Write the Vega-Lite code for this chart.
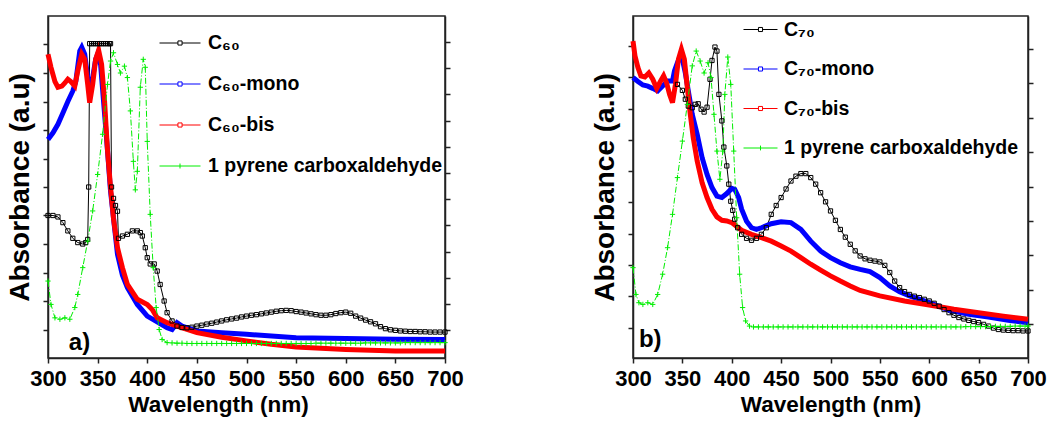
{
  "$schema": "https://vega.github.io/schema/vega-lite/v6.json",
  "background": "white",
  "padding": {"left": 5, "top": 11, "right": 5, "bottom": 5},
  "config": {
    "view": {"stroke": "#222222", "strokeWidth": 1.5},
    "axis": {"domainColor": "#222222", "domainWidth": 1.5, "tickColor": "#222222", "tickWidth": 1.5, "grid": false, "titleColor": "black", "labelColor": "black"},
    "legend": {"symbolStrokeWidth": 1, "symbolFillColor": "white", "labelFont": "Liberation Sans", "labelFontSize": 19.5, "labelFontWeight": "bold", "labelColor": "black", "labelLimit": 400, "padding": 0, "title": null}
  },
  "datasets": {
    "a": [
      {"s":"C₆₀","x":300,"y":0.50},{"s":"C₆₀","x":305,"y":0.50},{"s":"C₆₀","x":310,"y":0.495},{"s":"C₆₀","x":315,"y":0.475},{"s":"C₆₀","x":320,"y":0.446},{"s":"C₆₀","x":325,"y":0.42},{"s":"C₆₀","x":330,"y":0.405},{"s":"C₆₀","x":335,"y":0.40},{"s":"C₆₀","x":338,"y":0.405},{"s":"C₆₀","x":340,"y":0.416},{"s":"C₆₀","x":341,"y":0.60},{"s":"C₆₀","x":342,"y":1.103},{"s":"C₆₀","x":344,"y":1.103},{"s":"C₆₀","x":346,"y":1.103},{"s":"C₆₀","x":348,"y":1.103},{"s":"C₆₀","x":350,"y":1.103},{"s":"C₆₀","x":352,"y":1.103},{"s":"C₆₀","x":354,"y":1.103},{"s":"C₆₀","x":356,"y":1.103},{"s":"C₆₀","x":358,"y":1.103},{"s":"C₆₀","x":360,"y":1.103},{"s":"C₆₀","x":362,"y":1.103},{"s":"C₆₀","x":363,"y":1.103},{"s":"C₆₀","x":364,"y":0.60},{"s":"C₆₀","x":366,"y":0.56},{"s":"C₆₀","x":368,"y":0.535},{"s":"C₆₀","x":370,"y":0.515},{"s":"C₆₀","x":371,"y":0.42},{"s":"C₆₀","x":375,"y":0.428},{"s":"C₆₀","x":380,"y":0.434},{"s":"C₆₀","x":385,"y":0.446},{"s":"C₆₀","x":390,"y":0.446},{"s":"C₆₀","x":393,"y":0.44},{"s":"C₆₀","x":395,"y":0.428},{"s":"C₆₀","x":398,"y":0.387},{"s":"C₆₀","x":400,"y":0.352},{"s":"C₆₀","x":403,"y":0.33},{"s":"C₆₀","x":407,"y":0.33},{"s":"C₆₀","x":410,"y":0.305},{"s":"C₆₀","x":413,"y":0.258},{"s":"C₆₀","x":417,"y":0.20},{"s":"C₆₀","x":420,"y":0.159},{"s":"C₆₀","x":425,"y":0.13},{"s":"C₆₀","x":430,"y":0.112},{"s":"C₆₀","x":435,"y":0.107},{"s":"C₆₀","x":440,"y":0.106},{"s":"C₆₀","x":445,"y":0.108},{"s":"C₆₀","x":450,"y":0.112},{"s":"C₆₀","x":455,"y":0.115},{"s":"C₆₀","x":460,"y":0.119},{"s":"C₆₀","x":465,"y":0.122},{"s":"C₆₀","x":470,"y":0.126},{"s":"C₆₀","x":475,"y":0.13},{"s":"C₆₀","x":480,"y":0.134},{"s":"C₆₀","x":485,"y":0.137},{"s":"C₆₀","x":490,"y":0.14},{"s":"C₆₀","x":495,"y":0.144},{"s":"C₆₀","x":500,"y":0.147},{"s":"C₆₀","x":505,"y":0.15},{"s":"C₆₀","x":510,"y":0.152},{"s":"C₆₀","x":515,"y":0.155},{"s":"C₆₀","x":520,"y":0.158},{"s":"C₆₀","x":525,"y":0.161},{"s":"C₆₀","x":530,"y":0.164},{"s":"C₆₀","x":535,"y":0.166},{"s":"C₆₀","x":540,"y":0.167},{"s":"C₆₀","x":545,"y":0.166},{"s":"C₆₀","x":550,"y":0.163},{"s":"C₆₀","x":555,"y":0.161},{"s":"C₆₀","x":560,"y":0.158},{"s":"C₆₀","x":565,"y":0.155},{"s":"C₆₀","x":570,"y":0.152},{"s":"C₆₀","x":575,"y":0.15},{"s":"C₆₀","x":580,"y":0.15},{"s":"C₆₀","x":585,"y":0.152},{"s":"C₆₀","x":590,"y":0.156},{"s":"C₆₀","x":595,"y":0.159},{"s":"C₆₀","x":600,"y":0.161},{"s":"C₆₀","x":605,"y":0.157},{"s":"C₆₀","x":610,"y":0.147},{"s":"C₆₀","x":615,"y":0.14},{"s":"C₆₀","x":620,"y":0.133},{"s":"C₆₀","x":625,"y":0.127},{"s":"C₆₀","x":630,"y":0.12},{"s":"C₆₀","x":635,"y":0.11},{"s":"C₆₀","x":640,"y":0.103},{"s":"C₆₀","x":645,"y":0.099},{"s":"C₆₀","x":650,"y":0.097},{"s":"C₆₀","x":655,"y":0.095},{"s":"C₆₀","x":660,"y":0.094},{"s":"C₆₀","x":665,"y":0.093},{"s":"C₆₀","x":670,"y":0.093},{"s":"C₆₀","x":675,"y":0.092},{"s":"C₆₀","x":680,"y":0.092},{"s":"C₆₀","x":685,"y":0.091},{"s":"C₆₀","x":690,"y":0.091},{"s":"C₆₀","x":695,"y":0.091},{"s":"C₆₀","x":700,"y":0.091},
      {"s":"C₆₀-mono","x":300,"y":0.767},{"s":"C₆₀-mono","x":305,"y":0.79},{"s":"C₆₀-mono","x":310,"y":0.82},{"s":"C₆₀-mono","x":315,"y":0.86},{"s":"C₆₀-mono","x":320,"y":0.90},{"s":"C₆₀-mono","x":325,"y":0.937},{"s":"C₆₀-mono","x":328,"y":0.97},{"s":"C₆₀-mono","x":332,"y":1.077},{"s":"C₆₀-mono","x":334,"y":1.09},{"s":"C₆₀-mono","x":337,"y":1.066},{"s":"C₆₀-mono","x":340,"y":0.984},{"s":"C₆₀-mono","x":342,"y":0.943},{"s":"C₆₀-mono","x":345,"y":0.984},{"s":"C₆₀-mono","x":348,"y":1.048},{"s":"C₆₀-mono","x":350,"y":1.066},{"s":"C₆₀-mono","x":353,"y":1.03},{"s":"C₆₀-mono","x":356,"y":0.90},{"s":"C₆₀-mono","x":360,"y":0.726},{"s":"C₆₀-mono","x":363,"y":0.586},{"s":"C₆₀-mono","x":366,"y":0.49},{"s":"C₆₀-mono","x":370,"y":0.364},{"s":"C₆₀-mono","x":375,"y":0.29},{"s":"C₆₀-mono","x":380,"y":0.247},{"s":"C₆₀-mono","x":390,"y":0.188},{"s":"C₆₀-mono","x":400,"y":0.147},{"s":"C₆₀-mono","x":410,"y":0.127},{"s":"C₆₀-mono","x":420,"y":0.106},{"s":"C₆₀-mono","x":425,"y":0.10},{"s":"C₆₀-mono","x":430,"y":0.124},{"s":"C₆₀-mono","x":435,"y":0.112},{"s":"C₆₀-mono","x":450,"y":0.095},{"s":"C₆₀-mono","x":475,"y":0.089},{"s":"C₆₀-mono","x":500,"y":0.083},{"s":"C₆₀-mono","x":550,"y":0.071},{"s":"C₆₀-mono","x":600,"y":0.068},{"s":"C₆₀-mono","x":650,"y":0.066},{"s":"C₆₀-mono","x":700,"y":0.065},
      {"s":"C₆₀-bis","x":300,"y":1.066},{"s":"C₆₀-bis","x":303,"y":1.02},{"s":"C₆₀-bis","x":307,"y":0.97},{"s":"C₆₀-bis","x":310,"y":0.95},{"s":"C₆₀-bis","x":314,"y":0.954},{"s":"C₆₀-bis","x":317,"y":0.965},{"s":"C₆₀-bis","x":320,"y":0.978},{"s":"C₆₀-bis","x":323,"y":0.97},{"s":"C₆₀-bis","x":327,"y":0.954},{"s":"C₆₀-bis","x":330,"y":1.007},{"s":"C₆₀-bis","x":334,"y":1.066},{"s":"C₆₀-bis","x":337,"y":1.048},{"s":"C₆₀-bis","x":340,"y":0.96},{"s":"C₆₀-bis","x":342,"y":0.896},{"s":"C₆₀-bis","x":345,"y":0.96},{"s":"C₆₀-bis","x":348,"y":1.048},{"s":"C₆₀-bis","x":351,"y":1.08},{"s":"C₆₀-bis","x":354,"y":1.03},{"s":"C₆₀-bis","x":357,"y":0.90},{"s":"C₆₀-bis","x":360,"y":0.726},{"s":"C₆₀-bis","x":363,"y":0.60},{"s":"C₆₀-bis","x":366,"y":0.49},{"s":"C₆₀-bis","x":370,"y":0.387},{"s":"C₆₀-bis","x":375,"y":0.317},{"s":"C₆₀-bis","x":380,"y":0.258},{"s":"C₆₀-bis","x":390,"y":0.206},{"s":"C₆₀-bis","x":400,"y":0.188},{"s":"C₆₀-bis","x":405,"y":0.17},{"s":"C₆₀-bis","x":410,"y":0.141},{"s":"C₆₀-bis","x":420,"y":0.124},{"s":"C₆₀-bis","x":430,"y":0.112},{"s":"C₆₀-bis","x":450,"y":0.089},{"s":"C₆₀-bis","x":475,"y":0.073},{"s":"C₆₀-bis","x":500,"y":0.06},{"s":"C₆₀-bis","x":525,"y":0.048},{"s":"C₆₀-bis","x":550,"y":0.039},{"s":"C₆₀-bis","x":575,"y":0.034},{"s":"C₆₀-bis","x":600,"y":0.03},{"s":"C₆₀-bis","x":650,"y":0.025},{"s":"C₆₀-bis","x":700,"y":0.025},
      {"s":"1 pyrene carboxaldehyde","x":300,"y":0.27},{"s":"1 pyrene carboxaldehyde","x":303,"y":0.188},{"s":"1 pyrene carboxaldehyde","x":307,"y":0.141},{"s":"1 pyrene carboxaldehyde","x":312,"y":0.136},{"s":"1 pyrene carboxaldehyde","x":317,"y":0.141},{"s":"1 pyrene carboxaldehyde","x":322,"y":0.136},{"s":"1 pyrene carboxaldehyde","x":327,"y":0.177},{"s":"1 pyrene carboxaldehyde","x":330,"y":0.223},{"s":"1 pyrene carboxaldehyde","x":335,"y":0.317},{"s":"1 pyrene carboxaldehyde","x":340,"y":0.41},{"s":"1 pyrene carboxaldehyde","x":345,"y":0.516},{"s":"1 pyrene carboxaldehyde","x":350,"y":0.644},{"s":"1 pyrene carboxaldehyde","x":355,"y":0.785},{"s":"1 pyrene carboxaldehyde","x":360,"y":0.96},{"s":"1 pyrene carboxaldehyde","x":363,"y":1.042},{"s":"1 pyrene carboxaldehyde","x":366,"y":1.071},{"s":"1 pyrene carboxaldehyde","x":370,"y":1.03},{"s":"1 pyrene carboxaldehyde","x":373,"y":1.0},{"s":"1 pyrene carboxaldehyde","x":377,"y":1.024},{"s":"1 pyrene carboxaldehyde","x":380,"y":0.984},{"s":"1 pyrene carboxaldehyde","x":383,"y":0.867},{"s":"1 pyrene carboxaldehyde","x":386,"y":0.69},{"s":"1 pyrene carboxaldehyde","x":388,"y":0.59},{"s":"1 pyrene carboxaldehyde","x":390,"y":0.655},{"s":"1 pyrene carboxaldehyde","x":393,"y":0.95},{"s":"1 pyrene carboxaldehyde","x":396,"y":1.048},{"s":"1 pyrene carboxaldehyde","x":398,"y":1.02},{"s":"1 pyrene carboxaldehyde","x":400,"y":0.76},{"s":"1 pyrene carboxaldehyde","x":403,"y":0.504},{"s":"1 pyrene carboxaldehyde","x":406,"y":0.317},{"s":"1 pyrene carboxaldehyde","x":409,"y":0.177},{"s":"1 pyrene carboxaldehyde","x":412,"y":0.10},{"s":"1 pyrene carboxaldehyde","x":415,"y":0.065},{"s":"1 pyrene carboxaldehyde","x":420,"y":0.054},{"s":"1 pyrene carboxaldehyde","x":425,"y":0.053},{"s":"1 pyrene carboxaldehyde","x":430,"y":0.052},{"s":"1 pyrene carboxaldehyde","x":435,"y":0.052},{"s":"1 pyrene carboxaldehyde","x":440,"y":0.051},{"s":"1 pyrene carboxaldehyde","x":445,"y":0.051},{"s":"1 pyrene carboxaldehyde","x":450,"y":0.051},{"s":"1 pyrene carboxaldehyde","x":455,"y":0.051},{"s":"1 pyrene carboxaldehyde","x":460,"y":0.051},{"s":"1 pyrene carboxaldehyde","x":465,"y":0.051},{"s":"1 pyrene carboxaldehyde","x":470,"y":0.051},{"s":"1 pyrene carboxaldehyde","x":475,"y":0.051},{"s":"1 pyrene carboxaldehyde","x":480,"y":0.051},{"s":"1 pyrene carboxaldehyde","x":485,"y":0.051},{"s":"1 pyrene carboxaldehyde","x":490,"y":0.051},{"s":"1 pyrene carboxaldehyde","x":495,"y":0.051},{"s":"1 pyrene carboxaldehyde","x":500,"y":0.051},{"s":"1 pyrene carboxaldehyde","x":505,"y":0.051},{"s":"1 pyrene carboxaldehyde","x":510,"y":0.051},{"s":"1 pyrene carboxaldehyde","x":515,"y":0.051},{"s":"1 pyrene carboxaldehyde","x":520,"y":0.051},{"s":"1 pyrene carboxaldehyde","x":525,"y":0.051},{"s":"1 pyrene carboxaldehyde","x":530,"y":0.051},{"s":"1 pyrene carboxaldehyde","x":535,"y":0.051},{"s":"1 pyrene carboxaldehyde","x":540,"y":0.051},{"s":"1 pyrene carboxaldehyde","x":545,"y":0.051},{"s":"1 pyrene carboxaldehyde","x":550,"y":0.051},{"s":"1 pyrene carboxaldehyde","x":555,"y":0.051},{"s":"1 pyrene carboxaldehyde","x":560,"y":0.051},{"s":"1 pyrene carboxaldehyde","x":565,"y":0.051},{"s":"1 pyrene carboxaldehyde","x":570,"y":0.052},{"s":"1 pyrene carboxaldehyde","x":575,"y":0.052},{"s":"1 pyrene carboxaldehyde","x":580,"y":0.052},{"s":"1 pyrene carboxaldehyde","x":585,"y":0.052},{"s":"1 pyrene carboxaldehyde","x":590,"y":0.052},{"s":"1 pyrene carboxaldehyde","x":595,"y":0.052},{"s":"1 pyrene carboxaldehyde","x":600,"y":0.052},{"s":"1 pyrene carboxaldehyde","x":605,"y":0.052},{"s":"1 pyrene carboxaldehyde","x":610,"y":0.052},{"s":"1 pyrene carboxaldehyde","x":615,"y":0.052},{"s":"1 pyrene carboxaldehyde","x":620,"y":0.053},{"s":"1 pyrene carboxaldehyde","x":625,"y":0.053},{"s":"1 pyrene carboxaldehyde","x":630,"y":0.053},{"s":"1 pyrene carboxaldehyde","x":635,"y":0.053},{"s":"1 pyrene carboxaldehyde","x":640,"y":0.053},{"s":"1 pyrene carboxaldehyde","x":645,"y":0.053},{"s":"1 pyrene carboxaldehyde","x":650,"y":0.053},{"s":"1 pyrene carboxaldehyde","x":655,"y":0.053},{"s":"1 pyrene carboxaldehyde","x":660,"y":0.054},{"s":"1 pyrene carboxaldehyde","x":665,"y":0.054},{"s":"1 pyrene carboxaldehyde","x":670,"y":0.054},{"s":"1 pyrene carboxaldehyde","x":675,"y":0.054},{"s":"1 pyrene carboxaldehyde","x":680,"y":0.054},{"s":"1 pyrene carboxaldehyde","x":685,"y":0.054},{"s":"1 pyrene carboxaldehyde","x":690,"y":0.054},{"s":"1 pyrene carboxaldehyde","x":695,"y":0.054},{"s":"1 pyrene carboxaldehyde","x":700,"y":0.054}
    ],
    "b": [
      {"s":"C₇₀","x":345,"y":0.96},{"s":"C₇₀","x":350,"y":0.939},{"s":"C₇₀","x":353,"y":0.908},{"s":"C₇₀","x":356,"y":0.884},{"s":"C₇₀","x":360,"y":0.878},{"s":"C₇₀","x":363,"y":0.89},{"s":"C₇₀","x":366,"y":0.892},{"s":"C₇₀","x":369,"y":0.873},{"s":"C₇₀","x":372,"y":0.863},{"s":"C₇₀","x":375,"y":0.88},{"s":"C₇₀","x":378,"y":0.978},{"s":"C₇₀","x":380,"y":1.044},{"s":"C₇₀","x":383,"y":1.091},{"s":"C₇₀","x":385,"y":1.077},{"s":"C₇₀","x":387,"y":0.925},{"s":"C₇₀","x":390,"y":0.832},{"s":"C₇₀","x":392,"y":0.74},{"s":"C₇₀","x":395,"y":0.674},{"s":"C₇₀","x":397,"y":0.61},{"s":"C₇₀","x":399,"y":0.55},{"s":"C₇₀","x":401,"y":0.518},{"s":"C₇₀","x":403,"y":0.487},{"s":"C₇₀","x":406,"y":0.457},{"s":"C₇₀","x":410,"y":0.434},{"s":"C₇₀","x":415,"y":0.42},{"s":"C₇₀","x":420,"y":0.413},{"s":"C₇₀","x":425,"y":0.42},{"s":"C₇₀","x":430,"y":0.434},{"s":"C₇₀","x":435,"y":0.457},{"s":"C₇₀","x":440,"y":0.504},{"s":"C₇₀","x":445,"y":0.535},{"s":"C₇₀","x":450,"y":0.563},{"s":"C₇₀","x":455,"y":0.593},{"s":"C₇₀","x":460,"y":0.621},{"s":"C₇₀","x":465,"y":0.638},{"s":"C₇₀","x":470,"y":0.647},{"s":"C₇₀","x":475,"y":0.647},{"s":"C₇₀","x":480,"y":0.633},{"s":"C₇₀","x":485,"y":0.61},{"s":"C₇₀","x":490,"y":0.58},{"s":"C₇₀","x":495,"y":0.548},{"s":"C₇₀","x":500,"y":0.516},{"s":"C₇₀","x":505,"y":0.483},{"s":"C₇₀","x":510,"y":0.451},{"s":"C₇₀","x":515,"y":0.424},{"s":"C₇₀","x":520,"y":0.399},{"s":"C₇₀","x":525,"y":0.376},{"s":"C₇₀","x":530,"y":0.358},{"s":"C₇₀","x":535,"y":0.348},{"s":"C₇₀","x":540,"y":0.343},{"s":"C₇₀","x":545,"y":0.34},{"s":"C₇₀","x":550,"y":0.337},{"s":"C₇₀","x":555,"y":0.325},{"s":"C₇₀","x":560,"y":0.30},{"s":"C₇₀","x":565,"y":0.27},{"s":"C₇₀","x":570,"y":0.247},{"s":"C₇₀","x":575,"y":0.233},{"s":"C₇₀","x":580,"y":0.223},{"s":"C₇₀","x":585,"y":0.217},{"s":"C₇₀","x":590,"y":0.212},{"s":"C₇₀","x":595,"y":0.206},{"s":"C₇₀","x":600,"y":0.20},{"s":"C₇₀","x":605,"y":0.192},{"s":"C₇₀","x":610,"y":0.182},{"s":"C₇₀","x":615,"y":0.17},{"s":"C₇₀","x":620,"y":0.159},{"s":"C₇₀","x":625,"y":0.15},{"s":"C₇₀","x":630,"y":0.142},{"s":"C₇₀","x":635,"y":0.137},{"s":"C₇₀","x":640,"y":0.132},{"s":"C₇₀","x":645,"y":0.128},{"s":"C₇₀","x":650,"y":0.124},{"s":"C₇₀","x":655,"y":0.118},{"s":"C₇₀","x":660,"y":0.112},{"s":"C₇₀","x":665,"y":0.105},{"s":"C₇₀","x":670,"y":0.10},{"s":"C₇₀","x":675,"y":0.098},{"s":"C₇₀","x":680,"y":0.097},{"s":"C₇₀","x":685,"y":0.096},{"s":"C₇₀","x":690,"y":0.096},{"s":"C₇₀","x":695,"y":0.095},{"s":"C₇₀","x":700,"y":0.095},
      {"s":"C₇₀-mono","x":300,"y":0.984},{"s":"C₇₀-mono","x":305,"y":0.97},{"s":"C₇₀-mono","x":310,"y":0.958},{"s":"C₇₀-mono","x":315,"y":0.954},{"s":"C₇₀-mono","x":320,"y":0.946},{"s":"C₇₀-mono","x":325,"y":0.937},{"s":"C₇₀-mono","x":330,"y":0.954},{"s":"C₇₀-mono","x":335,"y":0.972},{"s":"C₇₀-mono","x":340,"y":0.972},{"s":"C₇₀-mono","x":342,"y":1.007},{"s":"C₇₀-mono","x":345,"y":1.036},{"s":"C₇₀-mono","x":348,"y":1.06},{"s":"C₇₀-mono","x":350,"y":1.048},{"s":"C₇₀-mono","x":353,"y":1.0},{"s":"C₇₀-mono","x":356,"y":0.937},{"s":"C₇₀-mono","x":360,"y":0.855},{"s":"C₇₀-mono","x":365,"y":0.785},{"s":"C₇₀-mono","x":370,"y":0.703},{"s":"C₇₀-mono","x":375,"y":0.644},{"s":"C₇₀-mono","x":380,"y":0.598},{"s":"C₇₀-mono","x":385,"y":0.568},{"s":"C₇₀-mono","x":390,"y":0.563},{"s":"C₇₀-mono","x":395,"y":0.577},{"s":"C₇₀-mono","x":400,"y":0.595},{"s":"C₇₀-mono","x":403,"y":0.592},{"s":"C₇₀-mono","x":407,"y":0.563},{"s":"C₇₀-mono","x":410,"y":0.522},{"s":"C₇₀-mono","x":415,"y":0.48},{"s":"C₇₀-mono","x":420,"y":0.457},{"s":"C₇₀-mono","x":425,"y":0.451},{"s":"C₇₀-mono","x":430,"y":0.457},{"s":"C₇₀-mono","x":440,"y":0.471},{"s":"C₇₀-mono","x":450,"y":0.478},{"s":"C₇₀-mono","x":460,"y":0.475},{"s":"C₇₀-mono","x":470,"y":0.451},{"s":"C₇₀-mono","x":480,"y":0.41},{"s":"C₇₀-mono","x":490,"y":0.375},{"s":"C₇₀-mono","x":500,"y":0.352},{"s":"C₇₀-mono","x":510,"y":0.334},{"s":"C₇₀-mono","x":520,"y":0.32},{"s":"C₇₀-mono","x":530,"y":0.311},{"s":"C₇₀-mono","x":540,"y":0.303},{"s":"C₇₀-mono","x":550,"y":0.282},{"s":"C₇₀-mono","x":560,"y":0.253},{"s":"C₇₀-mono","x":570,"y":0.232},{"s":"C₇₀-mono","x":580,"y":0.218},{"s":"C₇₀-mono","x":600,"y":0.194},{"s":"C₇₀-mono","x":620,"y":0.168},{"s":"C₇₀-mono","x":640,"y":0.153},{"s":"C₇₀-mono","x":660,"y":0.144},{"s":"C₇₀-mono","x":680,"y":0.132},{"s":"C₇₀-mono","x":700,"y":0.124},
      {"s":"C₇₀-bis","x":300,"y":1.112},{"s":"C₇₀-bis","x":302,"y":1.06},{"s":"C₇₀-bis","x":305,"y":1.019},{"s":"C₇₀-bis","x":308,"y":0.99},{"s":"C₇₀-bis","x":312,"y":0.986},{"s":"C₇₀-bis","x":316,"y":1.0},{"s":"C₇₀-bis","x":320,"y":0.978},{"s":"C₇₀-bis","x":324,"y":0.946},{"s":"C₇₀-bis","x":328,"y":0.972},{"s":"C₇₀-bis","x":331,"y":0.99},{"s":"C₇₀-bis","x":334,"y":0.966},{"s":"C₇₀-bis","x":337,"y":0.925},{"s":"C₇₀-bis","x":340,"y":0.896},{"s":"C₇₀-bis","x":343,"y":0.96},{"s":"C₇₀-bis","x":346,"y":1.048},{"s":"C₇₀-bis","x":349,"y":1.083},{"s":"C₇₀-bis","x":352,"y":1.048},{"s":"C₇₀-bis","x":355,"y":0.949},{"s":"C₇₀-bis","x":358,"y":0.855},{"s":"C₇₀-bis","x":361,"y":0.773},{"s":"C₇₀-bis","x":365,"y":0.691},{"s":"C₇₀-bis","x":370,"y":0.615},{"s":"C₇₀-bis","x":375,"y":0.563},{"s":"C₇₀-bis","x":380,"y":0.522},{"s":"C₇₀-bis","x":385,"y":0.495},{"s":"C₇₀-bis","x":390,"y":0.483},{"s":"C₇₀-bis","x":395,"y":0.481},{"s":"C₇₀-bis","x":400,"y":0.475},{"s":"C₇₀-bis","x":410,"y":0.448},{"s":"C₇₀-bis","x":420,"y":0.434},{"s":"C₇₀-bis","x":430,"y":0.422},{"s":"C₇₀-bis","x":440,"y":0.41},{"s":"C₇₀-bis","x":450,"y":0.393},{"s":"C₇₀-bis","x":460,"y":0.375},{"s":"C₇₀-bis","x":470,"y":0.352},{"s":"C₇₀-bis","x":480,"y":0.329},{"s":"C₇₀-bis","x":490,"y":0.308},{"s":"C₇₀-bis","x":500,"y":0.288},{"s":"C₇₀-bis","x":510,"y":0.27},{"s":"C₇₀-bis","x":520,"y":0.253},{"s":"C₇₀-bis","x":530,"y":0.237},{"s":"C₇₀-bis","x":550,"y":0.218},{"s":"C₇₀-bis","x":575,"y":0.20},{"s":"C₇₀-bis","x":600,"y":0.186},{"s":"C₇₀-bis","x":625,"y":0.171},{"s":"C₇₀-bis","x":650,"y":0.159},{"s":"C₇₀-bis","x":675,"y":0.147},{"s":"C₇₀-bis","x":700,"y":0.136},
      {"s":"1 pyrene carboxaldehyde","x":300,"y":0.317},{"s":"1 pyrene carboxaldehyde","x":303,"y":0.223},{"s":"1 pyrene carboxaldehyde","x":306,"y":0.194},{"s":"1 pyrene carboxaldehyde","x":310,"y":0.188},{"s":"1 pyrene carboxaldehyde","x":315,"y":0.194},{"s":"1 pyrene carboxaldehyde","x":320,"y":0.188},{"s":"1 pyrene carboxaldehyde","x":325,"y":0.223},{"s":"1 pyrene carboxaldehyde","x":330,"y":0.294},{"s":"1 pyrene carboxaldehyde","x":335,"y":0.387},{"s":"1 pyrene carboxaldehyde","x":340,"y":0.504},{"s":"1 pyrene carboxaldehyde","x":345,"y":0.633},{"s":"1 pyrene carboxaldehyde","x":350,"y":0.761},{"s":"1 pyrene carboxaldehyde","x":355,"y":0.89},{"s":"1 pyrene carboxaldehyde","x":360,"y":1.025},{"s":"1 pyrene carboxaldehyde","x":364,"y":1.077},{"s":"1 pyrene carboxaldehyde","x":368,"y":1.042},{"s":"1 pyrene carboxaldehyde","x":372,"y":1.0},{"s":"1 pyrene carboxaldehyde","x":376,"y":1.036},{"s":"1 pyrene carboxaldehyde","x":379,"y":0.984},{"s":"1 pyrene carboxaldehyde","x":382,"y":0.855},{"s":"1 pyrene carboxaldehyde","x":385,"y":0.726},{"s":"1 pyrene carboxaldehyde","x":388,"y":0.627},{"s":"1 pyrene carboxaldehyde","x":391,"y":0.726},{"s":"1 pyrene carboxaldehyde","x":393,"y":0.925},{"s":"1 pyrene carboxaldehyde","x":396,"y":1.056},{"s":"1 pyrene carboxaldehyde","x":399,"y":0.96},{"s":"1 pyrene carboxaldehyde","x":402,"y":0.726},{"s":"1 pyrene carboxaldehyde","x":405,"y":0.492},{"s":"1 pyrene carboxaldehyde","x":408,"y":0.294},{"s":"1 pyrene carboxaldehyde","x":411,"y":0.177},{"s":"1 pyrene carboxaldehyde","x":414,"y":0.13},{"s":"1 pyrene carboxaldehyde","x":418,"y":0.112},{"s":"1 pyrene carboxaldehyde","x":422,"y":0.109},{"s":"1 pyrene carboxaldehyde","x":427,"y":0.109},{"s":"1 pyrene carboxaldehyde","x":432,"y":0.109},{"s":"1 pyrene carboxaldehyde","x":437,"y":0.109},{"s":"1 pyrene carboxaldehyde","x":442,"y":0.109},{"s":"1 pyrene carboxaldehyde","x":447,"y":0.109},{"s":"1 pyrene carboxaldehyde","x":452,"y":0.109},{"s":"1 pyrene carboxaldehyde","x":457,"y":0.109},{"s":"1 pyrene carboxaldehyde","x":462,"y":0.109},{"s":"1 pyrene carboxaldehyde","x":467,"y":0.109},{"s":"1 pyrene carboxaldehyde","x":472,"y":0.109},{"s":"1 pyrene carboxaldehyde","x":477,"y":0.109},{"s":"1 pyrene carboxaldehyde","x":482,"y":0.109},{"s":"1 pyrene carboxaldehyde","x":487,"y":0.109},{"s":"1 pyrene carboxaldehyde","x":492,"y":0.109},{"s":"1 pyrene carboxaldehyde","x":497,"y":0.109},{"s":"1 pyrene carboxaldehyde","x":502,"y":0.109},{"s":"1 pyrene carboxaldehyde","x":507,"y":0.109},{"s":"1 pyrene carboxaldehyde","x":512,"y":0.109},{"s":"1 pyrene carboxaldehyde","x":517,"y":0.109},{"s":"1 pyrene carboxaldehyde","x":522,"y":0.109},{"s":"1 pyrene carboxaldehyde","x":527,"y":0.109},{"s":"1 pyrene carboxaldehyde","x":532,"y":0.109},{"s":"1 pyrene carboxaldehyde","x":537,"y":0.109},{"s":"1 pyrene carboxaldehyde","x":542,"y":0.109},{"s":"1 pyrene carboxaldehyde","x":547,"y":0.109},{"s":"1 pyrene carboxaldehyde","x":552,"y":0.109},{"s":"1 pyrene carboxaldehyde","x":557,"y":0.109},{"s":"1 pyrene carboxaldehyde","x":562,"y":0.109},{"s":"1 pyrene carboxaldehyde","x":567,"y":0.109},{"s":"1 pyrene carboxaldehyde","x":572,"y":0.109},{"s":"1 pyrene carboxaldehyde","x":577,"y":0.109},{"s":"1 pyrene carboxaldehyde","x":582,"y":0.109},{"s":"1 pyrene carboxaldehyde","x":587,"y":0.109},{"s":"1 pyrene carboxaldehyde","x":592,"y":0.109},{"s":"1 pyrene carboxaldehyde","x":597,"y":0.109},{"s":"1 pyrene carboxaldehyde","x":602,"y":0.109},{"s":"1 pyrene carboxaldehyde","x":607,"y":0.109},{"s":"1 pyrene carboxaldehyde","x":612,"y":0.109},{"s":"1 pyrene carboxaldehyde","x":617,"y":0.109},{"s":"1 pyrene carboxaldehyde","x":622,"y":0.109},{"s":"1 pyrene carboxaldehyde","x":627,"y":0.109},{"s":"1 pyrene carboxaldehyde","x":632,"y":0.109},{"s":"1 pyrene carboxaldehyde","x":637,"y":0.11},{"s":"1 pyrene carboxaldehyde","x":642,"y":0.11},{"s":"1 pyrene carboxaldehyde","x":647,"y":0.11},{"s":"1 pyrene carboxaldehyde","x":652,"y":0.11},{"s":"1 pyrene carboxaldehyde","x":657,"y":0.11},{"s":"1 pyrene carboxaldehyde","x":662,"y":0.11},{"s":"1 pyrene carboxaldehyde","x":667,"y":0.111},{"s":"1 pyrene carboxaldehyde","x":672,"y":0.111},{"s":"1 pyrene carboxaldehyde","x":677,"y":0.111},{"s":"1 pyrene carboxaldehyde","x":682,"y":0.111},{"s":"1 pyrene carboxaldehyde","x":687,"y":0.112},{"s":"1 pyrene carboxaldehyde","x":692,"y":0.112},{"s":"1 pyrene carboxaldehyde","x":697,"y":0.112},{"s":"1 pyrene carboxaldehyde","x":700,"y":0.112}
    ]
  },
  "hconcat": [
    {
      "width": 397, "height": 342,
      "data": {"name": "a"},
      "layer": [
        {
          "transform": [{"filter": "datum.s == 'C₆₀'"}],
          "mark": {"type": "line", "strokeWidth": 1},
          "encoding": {
            "x": {"field": "x", "type": "quantitative", "scale": {"domain": [300, 700], "nice": false},
              "axis": {"values": [300,325,350,375,400,425,450,475,500,525,550,575,600,625,650,675,700], "labelExpr": "datum.value % 50 == 0 ? datum.label : ''", "tickSize": 5, "labelFont": "Liberation Sans", "labelFontSize": 22, "labelFontWeight": "bold", "labelPadding": 5, "labelFlush": false, "labelOverlap": false, "title": "Wavelength (nm)", "titleFont": "Liberation Sans", "titleFontSize": 22.5, "titleFontWeight": "bold", "titlePadding": 4, "titleX": 170}},
            "y": {"field": "y", "type": "quantitative", "scale": {"domain": [0, 1.2], "nice": false},
              "axis": {"orient": "left", "values": [0.1,0.2,0.3,0.4,0.5,0.6,0.7,0.8,0.9,1.0,1.1], "labels": false, "tickSize": 5, "title": "Absorbance (a.u)", "titleFont": "Liberation Sans", "titleFontSize": 28, "titleFontWeight": "bold", "titlePadding": 8}},
            "color": {"field": "s", "type": "nominal",
              "scale": {"domain": ["C₆₀", "C₆₀-mono", "C₆₀-bis", "1 pyrene carboxaldehyde"], "range": ["#000000", "#0000ff", "#ff0000", "#00ee00"]},
              "legend": {"orient": "none", "legendX": 111, "legendY": 6,
                "symbolType": "M-1,0L-0.1,0M0.1,0L1,0M-0.1,-0.1L0.1,-0.1L0.1,0.1L-0.1,0.1Z",
                "symbolSize": 1681, "labelOffset": 7, "rowPadding": 10,
                "encode": {"symbols": {"update": {"shape": {"signal": "datum.value == '1 pyrene carboxaldehyde' ? 'M-1,0L1,0M0,-0.12L0,0.12' : 'M-1,0L-0.1,0M0.1,0L1,0M-0.1,-0.1L0.1,-0.1L0.1,0.1L-0.1,0.1Z'"}}}}}}
          }
        },
        {
          "transform": [{"filter": "datum.s == 'C₆₀-mono' || datum.s == 'C₆₀-bis'"}],
          "mark": {"type": "line", "strokeWidth": 5},
          "encoding": {
            "x": {"field": "x", "type": "quantitative"},
            "y": {"field": "y", "type": "quantitative", "axis": null},
            "color": {"field": "s", "type": "nominal", "scale": {"domain": ["C₆₀", "C₆₀-mono", "C₆₀-bis", "1 pyrene carboxaldehyde"], "range": ["#000000", "#0000ff", "#ff0000", "#00ee00"]}}
          }
        },
        {
          "transform": [{"filter": "datum.s == '1 pyrene carboxaldehyde'"}],
          "mark": {"type": "line", "strokeWidth": 1, "strokeDash": [6, 2, 1, 2]},
          "encoding": {
            "x": {"field": "x", "type": "quantitative"},
            "y": {"field": "y", "type": "quantitative", "axis": null},
            "color": {"field": "s", "type": "nominal", "scale": {"domain": ["C₆₀", "C₆₀-mono", "C₆₀-bis", "1 pyrene carboxaldehyde"], "range": ["#000000", "#0000ff", "#ff0000", "#00ee00"]}}
          }
        },
        {
          "transform": [{"filter": "datum.s == 'C₆₀'"}],
          "mark": {"type": "point", "shape": "square", "filled": false, "size": 18, "strokeWidth": 1, "color": "#000000", "opacity": 1},
          "encoding": {
            "x": {"field": "x", "type": "quantitative"},
            "y": {"field": "y", "type": "quantitative", "axis": {"orient": "right", "values": [0.097,0.189,0.281,0.373,0.465,0.557,0.649,0.741,0.833,0.925,1.017,1.109], "labels": false, "tickSize": 5, "title": null}}
          }
        },
        {
          "transform": [{"filter": "datum.s == '1 pyrene carboxaldehyde'"}],
          "mark": {"type": "point", "shape": "M-1,0L1,0M0,-1L0,1", "filled": false, "size": 28, "strokeWidth": 1, "color": "#00ee00", "opacity": 1},
          "encoding": {
            "x": {"field": "x", "type": "quantitative"},
            "y": {"field": "y", "type": "quantitative", "axis": null}
          }
        },
        {
          "data": {"values": [{}]},
          "mark": {"type": "text", "text": "a)", "font": "Liberation Sans", "fontSize": 24, "fontWeight": "bold", "align": "left", "baseline": "alphabetic", "color": "black"},
          "encoding": {
            "x": {"datum": 321, "type": "quantitative"},
            "y": {"datum": 0.028, "type": "quantitative", "axis": null}
          }
        }
      ],
      "resolve": {"axis": {"y": "independent"}}
    },
    {
      "width": 395, "height": 342,
      "data": {"name": "b"},
      "layer": [
        {
          "transform": [{"filter": "datum.s == 'C₇₀'"}],
          "mark": {"type": "line", "strokeWidth": 1},
          "encoding": {
            "x": {"field": "x", "type": "quantitative", "scale": {"domain": [300, 700], "nice": false},
              "axis": {"values": [300,325,350,375,400,425,450,475,500,525,550,575,600,625,650,675,700], "labelExpr": "datum.value % 50 == 0 ? datum.label : ''", "tickSize": 5, "labelFont": "Liberation Sans", "labelFontSize": 22, "labelFontWeight": "bold", "labelPadding": 5, "labelFlush": false, "labelOverlap": false, "title": "Wavelength (nm)", "titleFont": "Liberation Sans", "titleFontSize": 22.5, "titleFontWeight": "bold", "titlePadding": 4}},
            "y": {"field": "y", "type": "quantitative", "scale": {"domain": [0, 1.2], "nice": false},
              "axis": {"orient": "left", "values": [0.106,0.216,0.326,0.436,0.546,0.655,0.765,0.875,0.985,1.095], "labels": false, "tickSize": 5, "title": "Absorbance (a.u)", "titleFont": "Liberation Sans", "titleFontSize": 28, "titleFontWeight": "bold", "titlePadding": 8}},
            "color": {"field": "s", "type": "nominal",
              "scale": {"domain": ["C₇₀", "C₇₀-mono", "C₇₀-bis", "1 pyrene carboxaldehyde"], "range": ["#000000", "#0000ff", "#ff0000", "#00ee00"]},
              "legend": {"orient": "none", "legendX": 110, "legendY": -4,
                "symbolType": "M-1,0L-0.12,0M0.12,0L1,0M-0.12,-0.12L0.12,-0.12L0.12,0.12L-0.12,0.12Z",
                "symbolSize": 1156, "labelOffset": 6, "rowPadding": 12.5,
                "encode": {"symbols": {"update": {"shape": {"signal": "datum.value == '1 pyrene carboxaldehyde' ? 'M-1,0L1,0M0,-0.14L0,0.14' : 'M-1,0L-0.12,0M0.12,0L1,0M-0.12,-0.12L0.12,-0.12L0.12,0.12L-0.12,0.12Z'"}}}}}}
          }
        },
        {
          "transform": [{"filter": "datum.s == 'C₇₀-mono' || datum.s == 'C₇₀-bis'"}],
          "mark": {"type": "line", "strokeWidth": 5},
          "encoding": {
            "x": {"field": "x", "type": "quantitative"},
            "y": {"field": "y", "type": "quantitative", "axis": null},
            "color": {"field": "s", "type": "nominal", "scale": {"domain": ["C₇₀", "C₇₀-mono", "C₇₀-bis", "1 pyrene carboxaldehyde"], "range": ["#000000", "#0000ff", "#ff0000", "#00ee00"]}}
          }
        },
        {
          "transform": [{"filter": "datum.s == '1 pyrene carboxaldehyde'"}],
          "mark": {"type": "line", "strokeWidth": 1, "strokeDash": [6, 2, 1, 2]},
          "encoding": {
            "x": {"field": "x", "type": "quantitative"},
            "y": {"field": "y", "type": "quantitative", "axis": null},
            "color": {"field": "s", "type": "nominal", "scale": {"domain": ["C₇₀", "C₇₀-mono", "C₇₀-bis", "1 pyrene carboxaldehyde"], "range": ["#000000", "#0000ff", "#ff0000", "#00ee00"]}}
          }
        },
        {
          "transform": [{"filter": "datum.s == 'C₇₀'"}],
          "mark": {"type": "point", "shape": "square", "filled": false, "size": 18, "strokeWidth": 1, "color": "#000000", "opacity": 1},
          "encoding": {
            "x": {"field": "x", "type": "quantitative"},
            "y": {"field": "y", "type": "quantitative", "axis": {"orient": "right", "values": [0.119,0.239,0.36,0.481,0.601,0.722,0.843,0.964,1.084], "labels": false, "tickSize": 5, "title": null}}
          }
        },
        {
          "transform": [{"filter": "datum.s == '1 pyrene carboxaldehyde'"}],
          "mark": {"type": "point", "shape": "M-1,0L1,0M0,-1L0,1", "filled": false, "size": 28, "strokeWidth": 1, "color": "#00ee00", "opacity": 1},
          "encoding": {
            "x": {"field": "x", "type": "quantitative"},
            "y": {"field": "y", "type": "quantitative", "axis": null}
          }
        },
        {
          "data": {"values": [{}]},
          "mark": {"type": "text", "text": "b)", "font": "Liberation Sans", "fontSize": 24, "fontWeight": "bold", "align": "left", "baseline": "alphabetic", "color": "black"},
          "encoding": {
            "x": {"datum": 306, "type": "quantitative"},
            "y": {"datum": 0.039, "type": "quantitative", "axis": null}
          }
        }
      ],
      "resolve": {"axis": {"y": "independent"}}
    }
  ],
  "spacing": 125,
  "resolve": {"scale": {"color": "independent"}, "legend": {"color": "independent"}}
}
